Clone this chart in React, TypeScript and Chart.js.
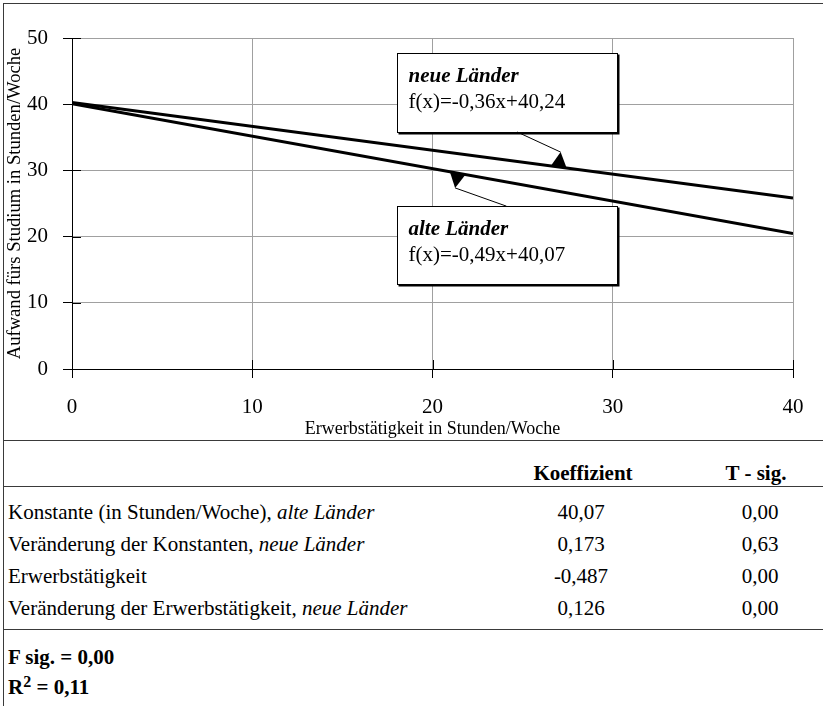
import React, { useEffect, useRef } from "react";
import { Chart, registerables } from "chart.js";

Chart.register(...registerables);

// ---- data ----
const xTickValues = [0, 10, 20, 30, 40];
const yTickValues = [0, 10, 20, 30, 40, 50];
const neueX = [0, 40];
const neueY = [40.24, 25.84];
const alteX = [0, 40];
const alteY = [40.07, 20.47];
const seriesNames = ["neue Länder", "alte Länder"];
const formulas = ["f(x)=-0,36x+40,24", "f(x)=-0,49x+40,07"];
const xTitle = "Erwerbstätigkeit in Stunden/Woche";
const yTitle = "Aufwand fürs Studium in Stunden/Woche";

const rowLabels = [
  "Konstante (in Stunden/Woche), ",
  "Veränderung der Konstanten, ",
  "Erwerbstätigkeit",
  "Veränderung der Erwerbstätigkeit, ",
];
const rowLabelsItalic = ["alte Länder", "neue Länder", "", "neue Länder"];
const koeffizient = ["40,07", "0,173", "-0,487", "0,126"];
const tSig = ["0,00", "0,63", "0,00", "0,00"];
const colHeaders = ["Koeffizient", "T - sig."];
const fSig = "F sig. = 0,00";
const r2Value = " = 0,11";

// annotation placement in data units
const annBoxes = [
  { x0: 18.03, y0: 47.7, x1: 30.24, y1: 35.8, fromX: 24.7, fromY: 35.8, atX: 27.0 },
  { x0: 18.03, y0: 24.6, x1: 30.24, y1: 12.8, fromX: 24.1, fromY: 24.6, atX: 21.4 },
];

const FONT = '"Liberation Serif", "Times New Roman", Times, serif';
const BORDER = "#3a3a3a";

function interp(xs: number[], ys: number[], x: number) {
  const t = (x - xs[0]) / (xs[1] - xs[0]);
  return ys[0] + t * (ys[1] - ys[0]);
}

const overlayPlugin = {
  id: "overlay",
  afterDatasetsDraw(chart: any) {
    const ctx = chart.ctx;
    const xs = chart.scales.x;
    const ys = chart.scales.y;
    const area = chart.chartArea;
    ctx.save();
    // inner tick marks (ticks cross the axes)
    ctx.strokeStyle = "#000";
    ctx.lineWidth = 1;
    yTickValues.forEach((v) => {
      const py = Math.round(ys.getPixelForValue(v)) + 0.5;
      ctx.beginPath();
      ctx.moveTo(area.left, py);
      ctx.lineTo(area.left + 9, py);
      ctx.stroke();
    });
    xTickValues.forEach((v) => {
      const px = Math.round(xs.getPixelForValue(v)) + 0.5;
      ctx.beginPath();
      ctx.moveTo(px, area.bottom);
      ctx.lineTo(px, area.bottom - 9);
      ctx.stroke();
    });

    const lines = [
      [neueX, neueY],
      [alteX, alteY],
    ];
    annBoxes.forEach((b, i) => {
      const L = Math.round(xs.getPixelForValue(b.x0)) + 0.5;
      const T = Math.round(ys.getPixelForValue(b.y0)) + 0.5;
      const R = Math.round(xs.getPixelForValue(b.x1)) + 0.5;
      const B = Math.round(ys.getPixelForValue(b.y1)) + 0.5;
      // shadow
      ctx.fillStyle = "#000";
      ctx.fillRect(L + 1, T + 1, R - L + 1, B - T + 1);
      ctx.fillStyle = "#fff";
      ctx.fillRect(L, T, R - L, B - T);
      ctx.strokeStyle = "#000";
      ctx.lineWidth = 1;
      ctx.strokeRect(L, T, R - L, B - T);
      // text
      ctx.fillStyle = "#000";
      ctx.textAlign = "left";
      ctx.textBaseline = "middle";
      ctx.font = `italic bold 21px ${FONT}`;
      ctx.fillText(seriesNames[i], L + 11, T + 23);
      ctx.font = `21px ${FONT}`;
      ctx.fillText(formulas[i], L + 11, T + 49);

      // arrow
      const [lx, ly] = lines[i];
      const ex = xs.getPixelForValue(b.atX);
      const ey = ys.getPixelForValue(interp(lx, ly, b.atX));
      const sx = xs.getPixelForValue(b.fromX);
      const sy = ys.getPixelForValue(b.fromY);
      const p0x = xs.getPixelForValue(lx[0]);
      const p0y = ys.getPixelForValue(ly[0]);
      const p1x = xs.getPixelForValue(lx[1]);
      const p1y = ys.getPixelForValue(ly[1]);
      let dx = p1x - p0x;
      let dy = p1y - p0y;
      const len = Math.hypot(dx, dy);
      dx /= len;
      dy /= len;
      let nx = -dy;
      let ny = dx;
      if ((sx - ex) * nx + (sy - ey) * ny < 0) {
        nx = -nx;
        ny = -ny;
      }
      const h = 15;
      const w = 8;
      const apx = ex + nx * h;
      const apy = ey + ny * h;
      ctx.strokeStyle = "#000";
      ctx.lineWidth = 1;
      ctx.beginPath();
      ctx.moveTo(sx, sy);
      ctx.lineTo(apx, apy);
      ctx.stroke();
      ctx.beginPath();
      ctx.moveTo(apx, apy);
      ctx.lineTo(ex + dx * w, ey + dy * w);
      ctx.lineTo(ex - dx * w, ey - dy * w);
      ctx.closePath();
      ctx.fill();
    });
    ctx.restore();
  },
};

function ChartCanvas() {
  const ref = useRef<HTMLCanvasElement | null>(null);
  useEffect(() => {
    if (!ref.current) return;
    const chart = new Chart(ref.current, {
      type: "scatter",
      data: {
        datasets: [
          {
            label: seriesNames[0],
            data: neueX.map((x, i) => ({ x, y: neueY[i] })),
            showLine: true,
            borderColor: "#000",
            borderWidth: 3,
            pointRadius: 0,
          },
          {
            label: seriesNames[1],
            data: alteX.map((x, i) => ({ x, y: alteY[i] })),
            showLine: true,
            borderColor: "#000",
            borderWidth: 3,
            pointRadius: 0,
          },
        ],
      },
      options: {
        responsive: false,
        animation: false,
        devicePixelRatio: 1,
        layout: { padding: { left: 0, top: 38, right: 30, bottom: 0 } },
        plugins: {
          legend: { display: false },
          tooltip: { enabled: false },
        },
        scales: {
          x: {
            type: "linear",
            min: 0,
            max: 40,
            afterBuildTicks: (s: any) => {
              s.ticks = xTickValues.map((v) => ({ value: v }));
            },
            ticks: {
              font: { family: FONT, size: 21 },
              color: "#000",
              padding: 17,
              maxRotation: 0,
            },
            grid: { color: "#a0a0a0", tickColor: "#000", tickLength: 9, lineWidth: 1 },
            border: { color: "#000", width: 1 },
            title: {
              display: true,
              text: xTitle,
              font: { family: FONT, size: 18 },
              color: "#000",
              padding: { top: 0, bottom: 0 },
            },
            afterFit: (s: any) => {
              s.height = 71;
            },
          },
          y: {
            type: "linear",
            min: 0,
            max: 50,
            afterBuildTicks: (s: any) => {
              s.ticks = yTickValues.map((v) => ({ value: v }));
            },
            ticks: {
              font: { family: FONT, size: 21 },
              color: "#000",
              padding: 15,
            },
            grid: { color: "#a0a0a0", tickColor: "#000", tickLength: 9, lineWidth: 1 },
            border: { color: "#000", width: 1 },
            title: {
              display: true,
              text: yTitle,
              font: { family: FONT, size: 18.6 },
              color: "#000",
              padding: { top: 4, bottom: 0 },
            },
            afterFit: (s: any) => {
              s.width = 72;
            },
          },
        },
      } as any,
      plugins: [overlayPlugin],
    });
    return () => chart.destroy();
  }, []);
  return (
    <canvas
      ref={ref}
      width={823}
      height={440}
      style={{ position: "absolute", left: 0, top: 0, width: 823, height: 440 }}
    />
  );
}

const hLine = (top: number) => (
  <div
    style={{ position: "absolute", left: 3, top, width: 820, height: 1, background: BORDER }}
  />
);

export default function App() {
  const rowCenters = [512, 544, 576, 608];
  const text: React.CSSProperties = {
    position: "absolute",
    fontFamily: FONT,
    fontSize: 21,
    lineHeight: "24px",
    color: "#000",
    whiteSpace: "nowrap",
  };
  return (
    <div
      style={{
        position: "absolute",
        left: 0,
        top: 0,
        width: 823,
        height: 706,
        background: "#fff",
        overflow: "hidden",
      }}
    >
      <ChartCanvas />
      <div style={{ position: "absolute", left: 3, top: 3, width: 820, height: 1, background: BORDER }} />
      <div style={{ position: "absolute", left: 3, top: 3, width: 1, height: 703, background: BORDER }} />
      {hLine(440)}
      {hLine(486)}
      {hLine(629)}
      <div style={{ ...text, left: 523, width: 120, textAlign: "center", top: 473 - 12, fontWeight: "bold" }}>
        {colHeaders[0]}
      </div>
      <div style={{ ...text, left: 696, width: 120, textAlign: "center", top: 473 - 12, fontWeight: "bold" }}>
        {colHeaders[1]}
      </div>
      {rowLabels.map((lab, i) => (
        <React.Fragment key={i}>
          <div style={{ ...text, left: 8, top: rowCenters[i] - 12 }}>
            {lab}
            {rowLabelsItalic[i] ? <i>{rowLabelsItalic[i]}</i> : null}
          </div>
          <div style={{ ...text, left: 521, width: 120, textAlign: "center", top: rowCenters[i] - 12 }}>
            {koeffizient[i]}
          </div>
          <div style={{ ...text, left: 700, width: 120, textAlign: "center", top: rowCenters[i] - 12 }}>
            {tSig[i]}
          </div>
        </React.Fragment>
      ))}
      <div style={{ ...text, left: 8, top: 657 - 12, fontWeight: "bold" }}>{fSig}</div>
      <div style={{ ...text, left: 8, top: 687 - 12, fontWeight: "bold" }}>
        R<sup style={{ fontSize: 16, lineHeight: 0, verticalAlign: "0.45em" }}>2</sup>
        {r2Value}
      </div>
    </div>
  );
}
